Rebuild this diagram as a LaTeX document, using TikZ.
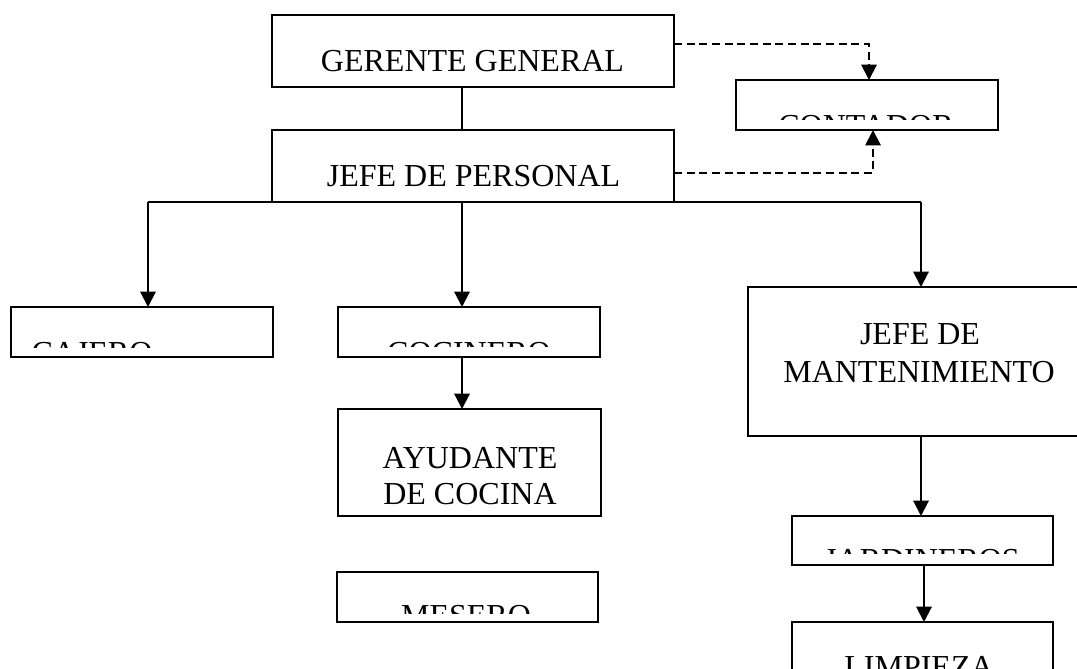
\documentclass[tikz,border=0pt]{standalone}
\usepackage{fontspec}
\setmainfont{Liberation Serif}
\usetikzlibrary{arrows.meta}
\begin{document}
\begin{tikzpicture}[x=0.75pt,y=-0.75pt,
  box/.style={draw, line width=1.6pt, rectangle, inner sep=0pt, outer sep=0pt},
  txt/.style={inner sep=0pt, anchor=base, font=\fontsize{24}{27}\selectfont},
  arr/.style={line width=1.5pt, -{Triangle[width=11.5pt,length=11.5pt]}},
  conn/.style={line width=1.5pt},
  thin/.style={line width=1pt},
  dsh/.style={line width=2pt, dash pattern=on 6pt off 3.5pt}]
\clip (0,0) rectangle (1077,668);
\fill[white] (0,0) rectangle (1077,668);

% boxes
\node[box, minimum width=301.5pt, minimum height=54pt] (gg) at (473,51) {};
\node[box, minimum width=301.5pt, minimum height=54pt] (jp) at (473,166) {};
\node[box, minimum width=196.5pt, minimum height=37.5pt] (cont) at (867,105) {};
\node[box, minimum width=196.5pt, minimum height=37.5pt] (caj) at (142,332) {};
\node[box, minimum width=196.5pt, minimum height=37.5pt] (coc) at (469,332) {};
\node[box, minimum width=197.25pt, minimum height=80.25pt] (ayu) at (469.5,462.5) {};
\node[box, minimum width=195.75pt, minimum height=37.5pt] (mes) at (467.5,597) {};
\node[box, minimum width=258pt, minimum height=111.75pt] (jm) at (920,361.5) {};
\node[box, minimum width=195.75pt, minimum height=36.75pt] (jar) at (922.5,540.5) {};
\node[box, minimum width=195.75pt, minimum height=37.5pt] (lim) at (922.5,647) {};

% texts
\node[txt] (ggt) at (472.5,71) {GERENTE GENERAL};
\node[txt] (jpt) at (473.5,186) {JEFE DE PERSONAL};
\node[txt] (ayu1) at (470,468.5) {AYUDANTE};
\node[txt] (ayu2) at (470,504) {DE COCINA};
\node[txt] (jm1) at (920,344) {JEFE DE};
\node[txt] (jm2) at (919,382) {MANTENIMIENTO};
\begin{scope}
  \clip (736,80) rectangle (998,119);
  \node[txt] (contt) at (866,136) {CONTADOR};
\end{scope}
\begin{scope}
  \clip (11,307) rectangle (273,347);
  \node[txt] (cajt) at (92,363) {CAJERO};
\end{scope}
\begin{scope}
  \clip (338,307) rectangle (600,346);
  \node[txt] (coct) at (469,363) {COCINERO};
\end{scope}
\begin{scope}
  \clip (337,572) rectangle (598,613);
  \node[txt] (mest) at (466,626) {MESERO};
\end{scope}
\begin{scope}
  \clip (792,516) rectangle (1053,553);
  \node[txt] (jart) at (922,570) {JARDINEROS};
\end{scope}
\node[txt] (limt) at (919,677) {LIMPIEZA};

% connector coordinates
\coordinate (bl) at (148,202);
\coordinate (bm) at (462,202);
\coordinate (br) at (921,202);
\coordinate (lx) at (924,565);
\coordinate (g1) at (674,44);
\coordinate (g2) at (869,44);
\coordinate (j1) at (674,173);
\coordinate (j2) at (873,173);

% connectors
\draw[thin] (gg.south -| bm) -- (jp.north -| bm);
\draw[conn] (bl) -- (br);
\draw[arr] (bl) -- (bl |- caj.north);
\draw[arr] (bm) -- (bm |- coc.north);
\draw[arr] (br) -- (br |- jm.north);
\draw[arr] (coc.south -| bm) -- (ayu.north -| bm);
\draw[arr] (jm.south -| br) -- (jar.north -| br);
\draw[arr] (lx) -- (lx |- lim.north);
\draw[dsh] (g1) -- (g2) -- ([yshift=7pt]g2 |- cont.north);
\draw[-{Triangle[width=11.5pt,length=11.5pt]}, line width=1.5pt] ([yshift=9pt]g2 |- cont.north) -- (g2 |- cont.north);
\draw[dsh] (j1) -- (j2) -- ([yshift=-7pt]j2 |- cont.south);
\draw[-{Triangle[width=11.5pt,length=11.5pt]}, line width=1.5pt] ([yshift=-9pt]j2 |- cont.south) -- (j2 |- cont.south);
\end{tikzpicture}
\end{document}
